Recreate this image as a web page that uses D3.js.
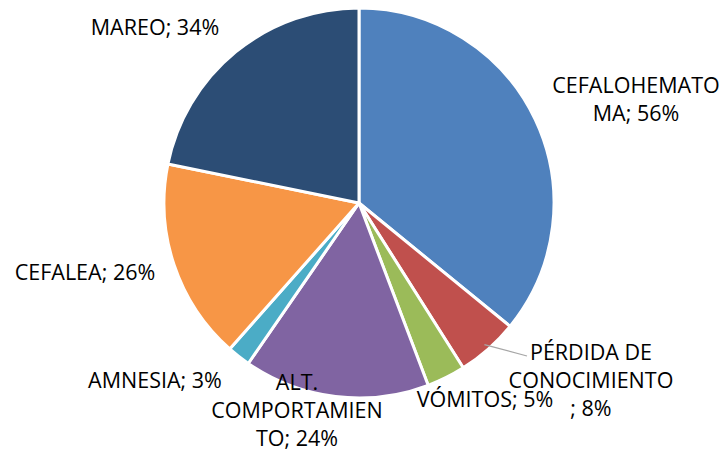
<!DOCTYPE html>
<html>
<head>
<meta charset="utf-8">
<script src="https://cdn.jsdelivr.net/npm/d3@7"></script>
<style>
  body { margin: 0; background: #fff; }
  text { font-family: "Open Sans", "Noto Sans", sans-serif; font-size: 21.5px; fill: #000; }
</style>
</head>
<body>
<svg></svg>
<script>
const width = 723
const height = 454

const categories = ['CEFALOHEMATOMA', 'PÉRDIDA DE CONOCIMIENTO', 'VÓMITOS', 'ALT. COMPORTAMIENTO', 'AMNESIA', 'CEFALEA', 'MAREO']
const values = [56, 8, 5, 24, 3, 26, 34]
const colors = ['#4f81bd', '#c0504d', '#9bbb59', '#8064a2', '#4bacc6', '#f79646', '#2c4d75']
// label lines as they wrap in the picture
const labelLines = [
	['CEFALOHEMATO', 'MA; 56%'],
	['PÉRDIDA DE', 'CONOCIMIENTO', '; 8%'],
	['VÓMITOS; 5%'],
	['ALT.', 'COMPORTAMIEN', 'TO; 24%'],
	['AMNESIA; 3%'],
	['CEFALEA; 26%'],
	['MAREO; 34%']
]
const labelPos = [[636, 93], [591, 360], [485, 407], [297, 390], [155, 388], [85, 280], [155, 35]]

const cx = 359
const cy = 203
const radius = 195

const svg = d3.select('svg')
	.attr('width', width)
	.attr('height', height)

const pie = d3.pie().sort(null).value(function (d) { return d })
const arc = d3.arc().innerRadius(0).outerRadius(radius)

const g = svg.append('g').attr('transform', 'translate(' + cx + ',' + cy + ')')

const arcs = pie(values)

g.selectAll('path')
	.data(arcs)
	.enter()
	.append('path')
	.attr('d', arc)
	.attr('fill', function (d, i) { return colors[i] })
	.attr('stroke', '#fff')
	.attr('stroke-width', 3)
	.attr('stroke-linejoin', 'round')

// leader line for the small red slice
const edge = d3.arc().innerRadius(radius * 0.97).outerRadius(radius * 0.97).centroid(arcs[1])
svg.append('polyline')
	.attr('points', [[cx + edge[0], cy + edge[1]], [527, 356]].map(function (p) { return p.join(',') }).join(' '))
	.attr('fill', 'none')
	.attr('stroke', '#a6a6a6')
	.attr('stroke-width', 1.2)

svg.selectAll('text.label')
	.data(labelLines)
	.enter()
	.append('text')
	.attr('class', 'label')
	.attr('text-anchor', 'middle')
	.attr('x', function (d, i) { return labelPos[i][0] })
	.attr('y', function (d, i) { return labelPos[i][1] })
	.each(function (lines, i) {
		d3.select(this).selectAll('tspan')
			.data(lines)
			.enter()
			.append('tspan')
			.attr('x', labelPos[i][0])
			.attr('dy', function (l, j) { return j === 0 ? 0 : 28 })
			.text(function (l) { return l })
	})
</script>
</body>
</html>
